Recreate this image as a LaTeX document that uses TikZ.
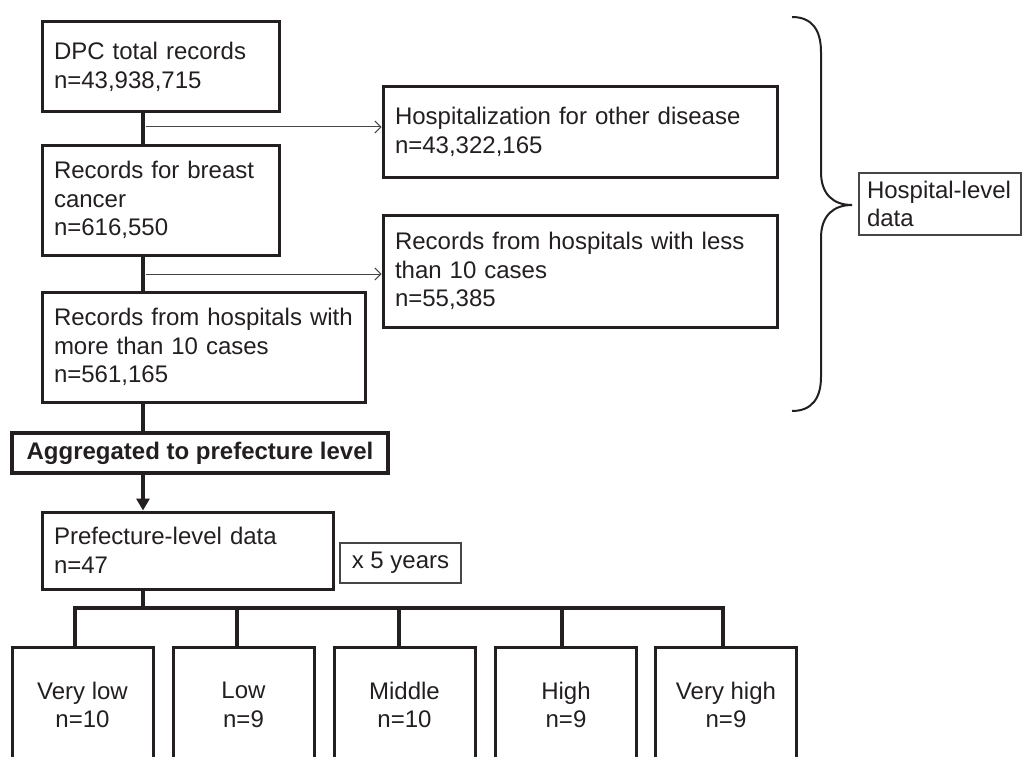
\documentclass[tikz,border=0pt]{standalone}
\usepackage{fontspec}
\setmainfont{Liberation Sans}
\usetikzlibrary{arrows.meta}
\definecolor{ink}{RGB}{35,31,32}
\definecolor{thin}{RGB}{70,70,70}
\begin{document}
\begin{tikzpicture}[x=1pt,y=-1pt,
  txt/.style={font=\fontsize{24}{28.5}\selectfont, text=ink},
  box/.style={txt, draw=ink, line width=3pt, align=left, inner xsep=12pt, inner ysep=0pt},
  thinbox/.style={txt, draw=thin, line width=1.2pt, inner ysep=0pt},
  lvl/.style={txt, draw=ink, line width=3pt, align=center, inner sep=0pt, minimum width=141pt, minimum height=116pt},
  spine/.style={draw=ink, line width=4.5pt},
  branch/.style={draw=ink, line width=3.5pt},
  excl/.style={draw=thin, line width=1pt, -{Straight Barb[length=6pt,width=12pt,line width=1pt]}},
  brace/.style={draw=ink, line width=2pt}
]
\useasboundingbox (0,0) rectangle (1022,757);
\clip (0,0) rectangle (1022,757);

% left column
\node[box, text width=213pt, minimum height=90pt] (dpc) at (160.5,67) {DPC total records\\n=43,938,715};
\node[box, text width=213pt, minimum height=110pt] (breast) at (160.5,200) {Records for breast\\cancer\\n=616,550};
\node[box, text width=299pt, minimum height=110pt] (more) at (203.5,347) {Records from hospitals with\\more than 10 cases\\n=561,165};
\node[box, font=\fontsize{24}{28.5}\selectfont\bfseries, line width=4pt, inner xsep=0pt, minimum width=376pt, minimum height=40pt] (agg) at (200,453) {Aggregated to prefecture level};
\node[box, text width=267pt, minimum height=77pt] (pref) at (187.5,550.5) {Prefecture-level data\\n=47};
\node[thinbox, minimum width=121pt, minimum height=40pt, inner xsep=0pt] (yrs) at (400.5,563) {x 5 years};

% exclusion boxes
\node[box, text width=370pt, minimum height=90pt] (hosp) at (580,132) {Hospitalization for other disease\\n=43,322,165};
\node[box, text width=370pt, minimum height=112pt] (less) at (580,271) {Records from hospitals with less\\than 10 cases\\n=55,385};

% hospital-level label
\node[thinbox, align=left, text width=146pt, inner xsep=8pt, minimum height=62pt] (hl) at (940,204) {Hospital-level\\data};

% level boxes
\node[lvl] (vlow)  at (82.5,705) {Very low\\n=10};
\node[lvl] (low)   at (243.5,705) {Low\\n=9};
\node[lvl] (mid)   at (404.5,705) {Middle\\n=10};
\node[lvl] (high)  at (566,705) {High\\n=9};
\node[lvl] (vhigh) at (726,705) {Very high\\n=9};

% spine
\coordinate (sp) at (143,0);
\draw[spine] (dpc.south -| sp) -- (breast.north -| sp);
\draw[spine] (breast.south -| sp) -- (more.north -| sp);
\draw[spine] (more.south -| sp) -- (agg.north -| sp);
\draw[spine, -{Triangle[length=12pt,width=13pt]}] (agg.south -| sp) -- (pref.north -| sp);

% exclusion arrows
\coordinate (a1) at (145.5,127);
\coordinate (a2) at (145.5,274);
\draw[excl] (a1) -- (a1 -| hosp.west);
\draw[excl] (a2) -- (a2 -| less.west);

% branching to levels
\coordinate (c1) at (75,608);
\coordinate (c2) at (237,608);
\coordinate (c3) at (399,608);
\coordinate (c4) at (562,608);
\coordinate (c5) at (723,608);
\draw[branch] (pref.south -| sp) -- (sp |- c1);
\draw[branch] (c1 |- vlow.north) -- (c1) -- (c5) -- (c5 |- vhigh.north);
\draw[branch] (c2) -- (c2 |- low.north);
\draw[branch] (c3) -- (c3 |- mid.north);
\draw[branch] (c4) -- (c4 |- high.north);

% brace
\draw[brace] (792,17) .. controls (812,17) and (821,30) .. (821,52)
  -- (821,172) .. controls (821,195) and (834,205) .. (852,205)
  .. controls (834,205) and (821,215) .. (821,238)
  -- (821,377) .. controls (821,398) and (812,411) .. (792,411);
\end{tikzpicture}
\end{document}
